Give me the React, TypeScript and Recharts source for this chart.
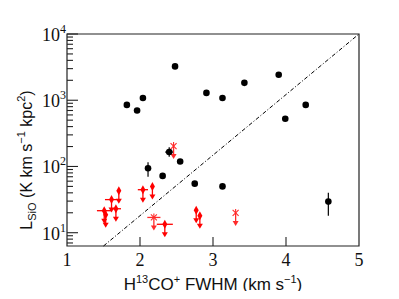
import React from "react";
import {
  ScatterChart,
  Scatter,
  XAxis,
  YAxis,
  ErrorBar,
  ReferenceLine,
  ReferenceArea,
} from "recharts";

// detections (black dots)
const detX = [1.82, 1.96, 2.04, 2.48, 2.91, 3.13, 3.43, 3.9, 3.99, 4.27, 2.55, 2.31, 2.75, 3.13];
const detY = [850, 700, 1080, 3240, 1290, 1080, 1830, 2420, 525, 850, 119, 72, 55, 50];

// detections with error bars
const errX = [2.11, 2.4, 4.58];
const errY = [94, 165, 29.5];
const errXErr = [0, 0.055, 0];
const errYLo = [24, 25, 11.5];
const errYHi = [22, 30, 10.5];

// upper limits (red diamonds)
const limX = [1.51, 1.53, 1.61, 1.67, 1.71, 2.04, 2.17, 2.34, 2.77, 2.82];
const limY = [21.5, 18.6, 31.6, 23, 43, 44.6, 50, 13.4, 21.8, 18.1];
const limXErr = [0.1, 0, 0.09, 0.07, 0, 0.07, 0, 0.11, 0, 0];

// upper limits (red asterisks)
const astX = [2.19, 2.46, 3.31];
const astY = [17, 203, 19.9];
const astXErr = [0.09, 0, 0];

const diagLine = [
  { x: 1.5, y: 6.3 },
  { x: 5, y: 10000 },
];

const xTicks = [1, 2, 3, 4, 5];
const yMajor = [10, 100, 1000, 10000];
const yTicks = [7, 8, 9, 10, 20, 30, 40, 50, 60, 70, 80, 90, 100, 200, 300, 400, 500, 600, 700, 800, 900, 1000, 2000, 3000, 4000, 5000, 6000, 7000, 8000, 9000, 10000];

const detData = detX.map((x, i) => ({ x, y: detY[i] }));
const errData = errX.map((x, i) => ({ x, y: errY[i], ex: errXErr[i], ey: [errYLo[i], errYHi[i]] }));
const limData = limX.map((x, i) => ({ x, y: limY[i], ex: limXErr[i] }));
const astData = astX.map((x, i) => ({ x, y: astY[i], ex: astXErr[i] }));

const RED = "#ff0000";
const serif = "'Liberation Serif', 'DejaVu Serif', serif";
const sans = "'Liberation Sans', 'DejaVu Sans', sans-serif";

const Dot = (p: any) => <circle cx={p.cx} cy={p.cy} r={3.3} fill="#000" />;

const Arrow = ({ cx, cy, color }: any) => (
  <g>
    <line x1={cx} y1={cy} x2={cx} y2={cy + 9} stroke={color} strokeWidth={1.3} />
    <polygon points={`${cx - 3},${cy + 8} ${cx + 3},${cy + 8} ${cx},${cy + 13}`} fill={color} />
  </g>
);

const Limit = (p: any) => (
  <g>
    <Arrow cx={p.cx} cy={p.cy} color={RED} />
    <polygon
      points={`${p.cx},${p.cy - 4.5} ${p.cx + 2.5},${p.cy} ${p.cx},${p.cy + 4.5} ${p.cx - 2.5},${p.cy}`}
      fill={RED}
    />
  </g>
);

const Aster = (p: any) => {
  const c = "#ff2a2a";
  return (
    <g>
      <Arrow cx={p.cx} cy={p.cy} color={c} />
      <line x1={p.cx - 3} y1={p.cy - 3} x2={p.cx + 3} y2={p.cy + 3} stroke={c} strokeWidth={1.1} />
      <line x1={p.cx + 3} y1={p.cy - 3} x2={p.cx - 3} y2={p.cy + 3} stroke={c} strokeWidth={1.1} />
      <line x1={p.cx} y1={p.cy - 4} x2={p.cx} y2={p.cy} stroke={c} strokeWidth={1.1} />
    </g>
  );
};

const XTick = (p: any) => {
  const v = p.payload.value;
  return (
    <g>
      {v > 1 && v < 5 && (
        <line x1={p.x} y1={p.y} x2={p.x} y2={p.y - 9} stroke="#222" strokeWidth={1.1} />
      )}
      <text x={p.x} y={p.y + 20} textAnchor="middle" fontFamily={serif} fontSize={18} fill="#111">
        {v}
      </text>
    </g>
  );
};

const YTick = (p: any) => {
  const v = p.payload.value;
  const major = yMajor.includes(v);
  return (
    <g>
      <line x1={p.x} y1={p.y} x2={p.x + (major ? 11 : 6)} y2={p.y} stroke="#222" strokeWidth={1.1} />
      {major && (
        <text x={p.x - 1} y={p.y + 7} textAnchor="end" fontFamily={serif} fontSize={18} fill="#111">
          10
          <tspan dy={-8} fontSize={12}>
            {Math.round(Math.log10(v))}
          </tspan>
        </text>
      )}
    </g>
  );
};

export default function App() {
  return (
    <div style={{ position: "relative", width: 399, height: 299, margin: -8, background: "#fff" }}>
      <ScatterChart width={399} height={299} margin={{ top: 34, right: 40, bottom: 0, left: 0 }}>
        <XAxis
          type="number"
          dataKey="x"
          domain={[1, 5]}
          ticks={xTicks}
          allowDataOverflow
          axisLine={false}
          tickLine={false}
          tickSize={0}
          tickMargin={0}
          height={53}
          interval={0}
          tick={<XTick />}
        />
        <YAxis
          type="number"
          dataKey="y"
          scale="log"
          domain={[6.3, 10000]}
          ticks={yTicks}
          allowDataOverflow
          axisLine={false}
          tickLine={false}
          tickSize={0}
          tickMargin={0}
          width={67}
          interval={0}
          tick={<YTick />}
        />
        <ReferenceArea x1={1} x2={5} y1={6.3} y2={10000} fill="none" stroke="#222" strokeWidth={1.2} />
        <ReferenceLine
          segment={diagLine}
          stroke="#000"
          strokeWidth={1}
          strokeDasharray="4 2 1 2"
        />
        <Scatter data={limData} shape={<Limit />} isAnimationActive={false}>
          <ErrorBar dataKey="ex" direction="x" width={0} stroke={RED} strokeWidth={1.3} />
        </Scatter>
        <Scatter data={astData} shape={<Aster />} isAnimationActive={false}>
          <ErrorBar dataKey="ex" direction="x" width={0} stroke="#ff2a2a" strokeWidth={1.3} />
        </Scatter>
        <Scatter data={detData} shape={<Dot />} isAnimationActive={false} />
        <Scatter data={errData} shape={<Dot />} isAnimationActive={false}>
          <ErrorBar dataKey="ex" direction="x" width={0} stroke="#000" strokeWidth={1.2} />
          <ErrorBar dataKey="ey" direction="y" width={0} stroke="#000" strokeWidth={1.2} />
        </Scatter>
      </ScatterChart>
      <svg
        width={399}
        height={299}
        style={{ position: "absolute", left: 0, top: 0, pointerEvents: "none" }}
      >
        <text x={213} y={290} textAnchor="middle" fontFamily={sans} fontSize={17} fill="#111">
          H
          <tspan dy={-7} fontSize={11}>13</tspan>
          <tspan dy={7}>CO</tspan>
          <tspan dy={-7} fontSize={11}>+</tspan>
          <tspan dy={7}> FWHM (km s</tspan>
          <tspan dy={-7} fontSize={11}>−1</tspan>
          <tspan dy={7}>)</tspan>
        </text>
        <text
          transform="rotate(-90)"
          x={-160}
          y={32}
          textAnchor="middle"
          fontFamily={sans}
          fontSize={16}
          fill="#111"
        >
          L
          <tspan dy={4} fontSize={11}>SiO</tspan>
          <tspan dy={-4}> (K km s</tspan>
          <tspan dy={-7} fontSize={11}>−1</tspan>
          <tspan dy={7}> kpc</tspan>
          <tspan dy={-7} fontSize={11}>2</tspan>
          <tspan dy={7}>)</tspan>
        </text>
      </svg>
    </div>
  );
}
